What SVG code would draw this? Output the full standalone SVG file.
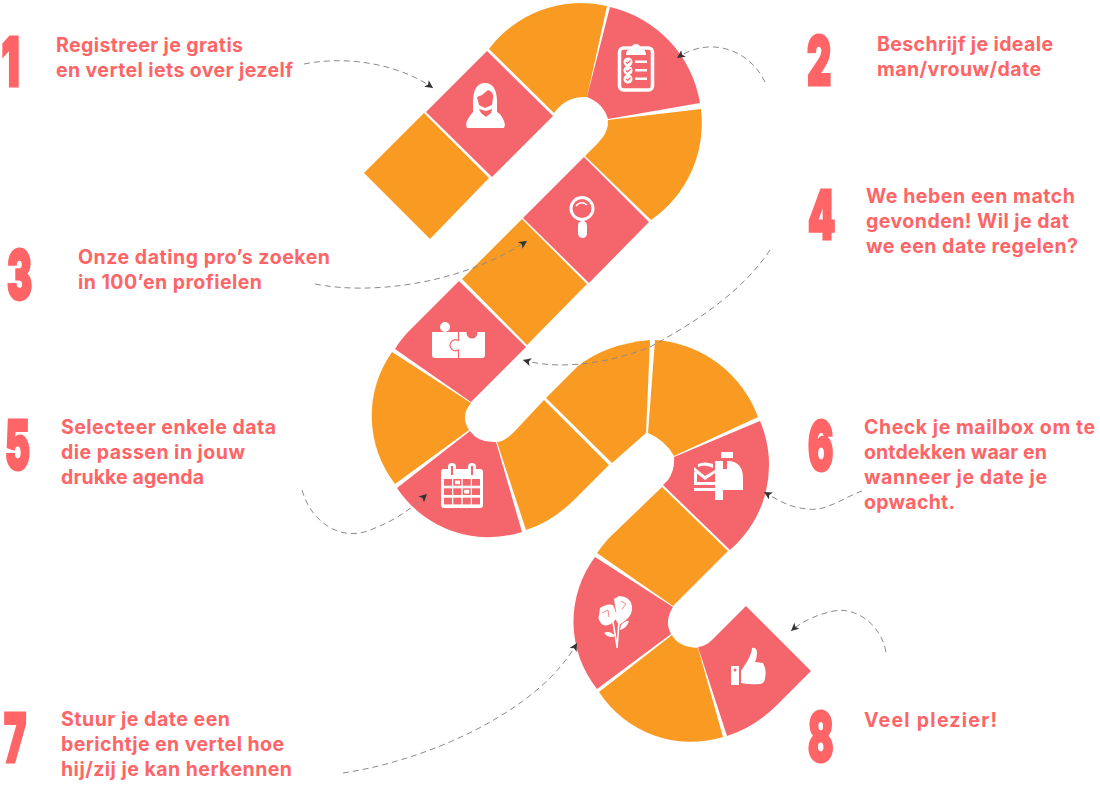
<svg xmlns="http://www.w3.org/2000/svg" width="1100" height="785" viewBox="0 0 1100 785">
<style>
.o{fill:#F99B22}.p{fill:#F4666B}
.w{fill:#fff}.c{fill:#F4666B}
.ws{fill:none;stroke:#fff}
.cs{fill:none;stroke:#F4666B}
.t{font-family:Inter,"Liberation Sans",sans-serif;font-weight:700;font-size:19.500px;fill:#FF6567;font-variant-ligatures:none}
.n{font-family:Inter,"Liberation Sans",sans-serif;font-weight:900;font-size:67px;fill:#FF6567;stroke:#FF6567;stroke-width:3px;stroke-linejoin:miter}
.a{fill:none;stroke:#8a8a8a;stroke-width:1;stroke-dasharray:6 4;marker-end:url(#h)}
</style>
<defs>
<marker id="h" markerUnits="userSpaceOnUse" markerWidth="9" markerHeight="9" refX="8" refY="4" orient="auto"><path d="M0 0L8 4L0 8L2 4Z" fill="#333"/></marker>
</defs>
<rect width="1100" height="785" fill="#fff"/>

<g id="tile-0"><path class="o" d="M364 173L424 113L489 178L430 239Z"/></g>
<g id="step-1">
<path class="p" d="M426 112L487 51L553 116L492 177Z"/>
<path class="w" d="M467 128Q465 123 468 119Q471 114 473 112L473 100Q474 83 485 83Q496 83 497 100L497 112Q501 114 503 119Q506 124 504 128Z"/>
<path class="c" d="M477 97L482 95L488 90Q494 92 493 98L492 105L485 108L479 105Z"/>
<path class="c" d="M479 109L486 111L492 109L491 113L486 117L481 113Z"/>
<text class="n" transform="translate(1.500 86) scale(.6 1)">1</text>
<text class="t" x="56" y="52" textLength="187">Registreer je gratis</text>
<text class="t" x="56" y="77" textLength="237">en vertel iets over jezelf</text>
</g>
<g id="tile-1"><path class="o" d="M489 49A115 115 0 0 1 607 6L587 97Q566 96 554 113Z"/></g>
<g id="step-2">
<path class="p" d="M610 7A118 118 0 0 1 700 103L608 119Q603 103 587 97Z"/>
<rect class="ws" x="619.500" y="48" width="33" height="42" rx="4" stroke-width="3.500"/>
<path class="w" d="M626 55h20q0 -6 -5 -6q-1 -5 -5 -5q-4 0 -5 5q-5 0 -5 6z"/>
<circle class="w" cx="628" cy="62" r="4.500"/><circle class="w" cx="628" cy="70.500" r="4.500"/><circle class="w" cx="628" cy="79" r="4.500"/>
<path class="cs" stroke-width="1.200" d="M626 62l1.500 1.500l3 -3M626 70.500l1.500 1.500l3 -3M626 79l1.500 1.500l3 -3"/>
<rect class="w" x="635" y="60.500" width="12" height="2.500"/><rect class="w" x="635" y="69" width="12" height="2.500"/><rect class="w" x="635" y="77.500" width="12" height="2.500"/>
<text class="n" transform="translate(807 85) scale(.56 1)">2</text>
<text class="t" x="877" y="51" textLength="176">Beschrijf je ideale</text>
<text class="t" x="877" y="76" textLength="164">man/vrouw/date</text>
</g>
<g id="tile-2"><path class="o" d="M701 109A118 118 0 0 1 651 220L585 156L598 143Q609 132 608 120Z"/></g>
<g id="step-3">
<path class="p" d="M584 157L649 222L589 283L523 218Z"/>
<circle class="ws" cx="582" cy="208.500" r="11" stroke-width="3"/>
<path class="ws" stroke-width="1.500" d="M576 206Q581 200 587 205"/>
<rect class="w" x="578" y="221" width="9" height="17" rx="4.500"/>
<text class="n" transform="translate(7 299) scale(.56 1)">3</text>
<text class="t" x="78" y="264" textLength="252">Onze dating pro’s zoeken</text>
<text class="t" x="78" y="289" textLength="184">in 100’en profielen</text>
</g>
<g id="tile-3"><path class="o" d="M522 219L587 284L527 345L462 279Z"/></g>
<g id="step-4">
<path class="p" d="M459 281L526 347L479 394Q475 398 471 402L395 349Q399 342 407 333Z"/>
<circle class="w" cx="445" cy="327" r="5"/>
<path class="w" d="M432 332H485V355Q485 358 482 358H435Q432 358 432 355Z"/>
<circle class="c" cx="472" cy="333" r="5.500"/>
<path class="cs" stroke-width="1.200" d="M458.500 332V340.500A5.500 5.500 0 1 0 458.500 350V358"/>
<text class="n" transform="translate(808 239) scale(.58 1)">4</text>
<text class="t" x="866" y="203" textLength="209">We heben een match</text>
<text class="t" x="866" y="228" textLength="203">gevonden! Wil je dat</text>
<text class="t" x="866" y="253" textLength="212">we een date regelen?</text>
</g>
<g id="tile-4"><path class="o" d="M392 352A111 111 0 0 0 395 484L469 430Q460 416 471 403Z"/></g>
<g id="step-5">
<path class="p" d="M397 488L470 431Q478 443 496 442L522 532A110 110 0 0 1 397 488Z"/>
<rect class="w" x="441" y="469" width="42" height="39" rx="3"/>
<rect class="w" x="448" y="463" width="8" height="12" rx="4"/><rect class="w" x="468" y="463" width="8" height="12" rx="4"/>
<rect class="c" x="451" y="466" width="2" height="9"/><rect class="c" x="471" y="466" width="2" height="9"/>
<g class="c">
<rect x="444" y="479" width="8" height="6.700"/><rect x="453.300" y="479" width="8" height="6.700"/><rect x="462.700" y="479" width="8" height="6.700"/><rect x="472" y="479" width="8" height="6.700"/>
<rect x="444" y="488.300" width="8" height="6.700"/><rect x="453.300" y="488.300" width="8" height="6.700"/><rect x="462.700" y="488.300" width="8" height="6.700"/><rect x="472" y="488.300" width="8" height="6.700"/>
<rect x="444" y="497.700" width="8" height="6.700"/><rect x="453.300" y="497.700" width="8" height="6.700"/><rect x="462.700" y="497.700" width="8" height="6.700"/><rect x="472" y="497.700" width="8" height="6.700"/>
</g>
<rect class="w" x="455" y="480.500" width="5" height="3.700"/><rect class="w" x="464.200" y="489.800" width="5" height="3.700"/>
<text class="n" transform="translate(5 469) scale(.56 1)">5</text>
<text class="t" x="61" y="434" textLength="215">Selecteer enkele data</text>
<text class="t" x="61" y="459" textLength="184">die passen in jouw</text>
<text class="t" x="61" y="484" textLength="143">drukke agenda</text>
</g>
<g id="tile-5"><path class="o" d="M497 442Q505 441 514 432L544 400L609 465L575 499Q552 522 526 530Z"/></g>
<g id="tile-6"><path class="o" d="M546 398L578 366Q606 344 650 340L646 433L612 463Z"/></g>
<g id="tile-7"><path class="o" d="M655 340A118 118 0 0 1 758 417L674 456Q665 440 648 433Z"/></g>
<g id="step-6">
<path class="p" d="M760 421A112 112 0 0 1 730 550L663 485L668 480Q675 470 674 457Z"/>
<path class="w" d="M715 461H730Q743 463 743 478V490H723V500H715Z"/>
<rect class="w" x="721" y="452" width="12" height="6"/>
<rect class="c" x="723" y="458" width="4" height="11"/>
<path class="w" d="M698 464Q705 461 713 464L713 468Q705 464 698 467Z"/>
<path class="w" d="M694 467L705 476L715 470V473L705 480L694 471Z"/>
<path class="w" d="M694 472H697V482H715V485H694Z"/>
<rect class="w" x="694" y="488" width="21" height="3"/>
<text class="n" transform="translate(808 470) scale(.56 1)">6</text>
<text class="t" x="864" y="434" textLength="231">Check je mailbox om te</text>
<text class="t" x="864" y="459" textLength="183">ontdekken waar en</text>
<text class="t" x="864" y="484" textLength="183">wanneer je date je</text>
<text class="t" x="864" y="509" textLength="91">opwacht.</text>
</g>
<g id="tile-8"><path class="o" d="M662 487L728 551L673 606L597 553Q602 546 608 539Z"/></g>
<g id="step-7">
<path class="p" d="M595 557L673 607Q664 621 671 634L597 689A108 108 0 0 1 595 557Z"/>
<path class="w" d="M600 608Q607 603 613 605Q618 612 616 619Q610 627 603 625Q597 620 599 615Z"/>
<path class="w" d="M614 599L619 596Q630 596 632 606Q633 614 626 620L619 625Q613 617 616 612Z"/>
<path class="ws" stroke-width="1.600" d="M619 622L617 648M613 622L617 646"/>
<path class="w" d="M604 633Q610 630 615 636Q609 639 604 633ZM621 625Q626 620 629 621Q627 628 620 630Z"/>
<path class="cs" stroke-width=".8" d="M602 613L608 610L609 617M621 601L626 604L622 609M614 606L616 612"/>
<text class="n" transform="translate(4 762) scale(.56 1)">7</text>
<text class="t" x="61" y="726" textLength="169">Stuur je date een</text>
<text class="t" x="61" y="751" textLength="223">berichtje en vertel hoe</text>
<text class="t" x="61" y="776" textLength="231">hij/zij je kan herkennen</text>
</g>
<g id="tile-9"><path class="o" d="M672 635Q678 647 698 648L723 737A110 110 0 0 1 599 692Z"/></g>
<g id="step-8">
<path class="p" d="M698 647Q706 646 712 640L746 606L811 671L777 705Q755 727 727 736Z"/>
<rect class="w" x="731" y="666" width="8" height="19"/><circle class="c" cx="735" cy="670" r="1.500"/>
<path class="w" d="M741 683V671L748 660Q752 652 752 648Q756 647 757 652Q757 658 755 662L763 663Q767 670 765 678Q765 683 760 684Q750 685 741 683Z"/>
<text class="n" transform="translate(808 761) scale(.56 1)">8</text>
<text class="t" x="864" y="727" textLength="133">Veel plezier!</text>
</g>

<g id="connectors">
<path class="a" d="M304 64C350 55 400 65 433 88"/>
<path class="a" d="M765 82C750 50 710 35 677 58"/>
<path class="a" d="M315 284C370 295 460 285 527 241"/>
<path class="a" d="M770 250C740 295 690 325 650 347C618 360 565 372 523 360"/>
<path class="a" d="M302 490C310 520 340 545 375 528C395 520 410 510 427 494"/>
<path class="a" d="M862 491C845 497 825 512 808 509C790 508 778 500 764 492"/>
<path class="a" d="M343 773C430 760 540 710 577 643"/>
<path class="a" d="M886 652C880 620 850 605 830 612C815 615 800 623 791 631"/>
</g>
</svg>
